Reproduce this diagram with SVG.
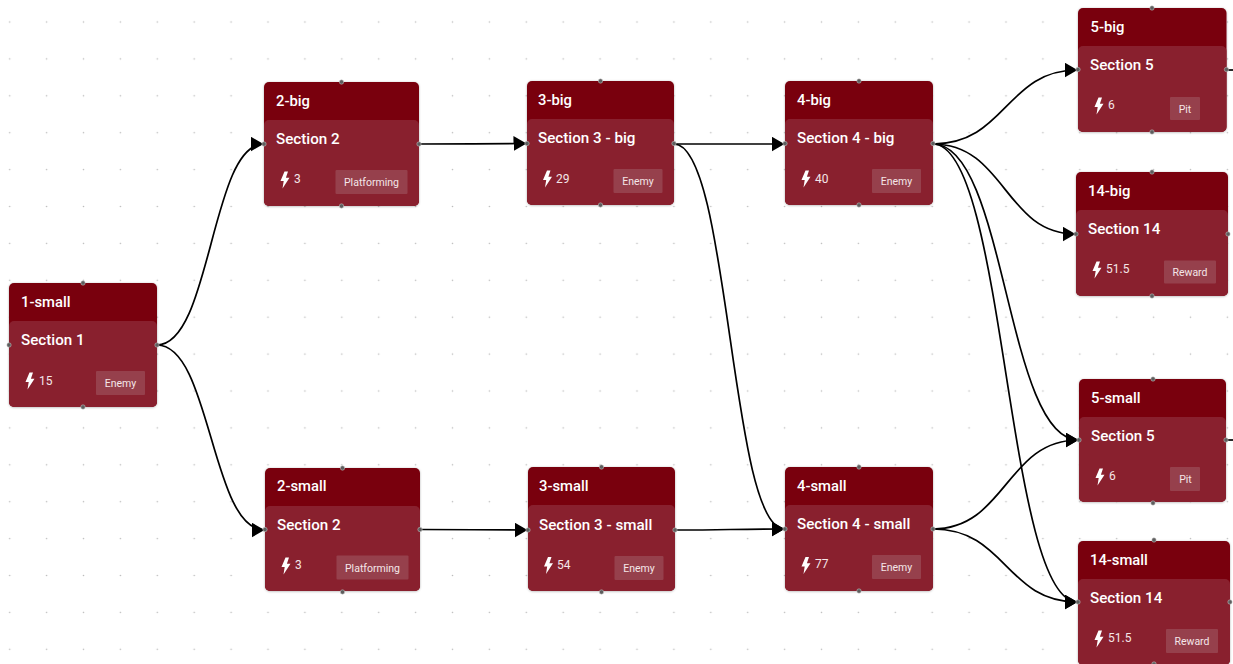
<svg xmlns="http://www.w3.org/2000/svg" width="1233" height="664" viewBox="0 0 1233 664">
<style>
.o{fill:#79000f}.i{fill:#89202e}.c{fill:#96404c}.b{fill:#fff}
.h{fill:#5e5e5e;stroke:#ccc;stroke-width:.5}
text{font-family:Roboto,"Liberation Sans",sans-serif;fill:#fff}
.t{font-size:14.8px;font-weight:500}.s{font-size:15.200px;font-weight:500}.v{font-size:12px;fill:#f4e6e8}.l{font-size:10.500px;text-anchor:middle;fill:#f4e6e8}
.e{fill:none;stroke:#000;stroke-width:1.700}
.a{marker-end:url(#ar)}
</style>
<defs>
<pattern id="g" width="36.9" height="36.9" patternUnits="userSpaceOnUse" x="-8.75" y="3.55"><circle cx="18.45" cy="18.45" r=".8" fill="#bcbcbc"/></pattern>
<marker id="ar" markerUnits="userSpaceOnUse" markerWidth="15" markerHeight="16" refX="13" refY="7.500" orient="auto"><path d="M0 0L13 7.500L0 15Z" fill="#000"/></marker>
<path id="bolt" d="M4 0L0 9.500H3.200L2 17L9 6.300H5.400L7.500 0Z"/>
<filter id="sh" x="-5%" y="-5%" width="110%" height="110%"><feDropShadow dx="0" dy="0.5" stdDeviation="0.8" flood-color="#000" flood-opacity=".3"/></filter>
</defs>
<rect width="1233" height="664" fill="#fff"/>
<rect width="1233" height="664" fill="url(#g)"/>
<g id="connectors">
<path class="e a" d="M157 345C211 345 211 144 263.500 144"/>
<path class="e a" d="M157 345C211 345 211 530 264.500 530"/>
<path class="e a" d="M419 144C473 144 473 144 526.500 143.500"/>
<path class="e a" d="M420 529.500C474 529.500 474 530 527.500 530"/>
<path class="e a" d="M674 144C730 144 730 144 784.500 144"/>
<path class="e a" d="M674 144C730 144 730 529 784.500 529"/>
<path class="e a" d="M675 530C730 530 730 529 784.500 529"/>
<path class="e a" d="M933 144C1006 144 1006 70 1077.500 70"/>
<path class="e a" d="M933 144C1005 144 1005 234 1075.500 234"/>
<path class="e a" d="M933 144C1006 144 1006 440 1078.500 440"/>
<path class="e a" d="M933 144C1006 144 1006 602 1077.500 602"/>
<path class="e a" d="M933 529C1006 529 1006 440 1078.500 440"/>
<path class="e a" d="M933 529C1006 529 1006 602 1077.500 602"/>
<path class="e" d="M1227 70H1233"/>
<path class="e" d="M1227 440H1233"/>
</g>
<g id="n1-small" transform="translate(9 283)"><rect class="o" width="148" height="124" rx="5" filter="url(#sh)"/><rect class="i" y="38" width="148" height="86" rx="5"/><text class="t" x="12" y="24">1-small</text><text class="s" x="12" y="62">Section 1</text><use class="b" href="#bolt" x="16.500" y="89.500"/><text class="v" x="30" y="102">15</text><rect class="c" x="87" y="88" width="49" height="24" rx="1"/><text class="l" x="111.500" y="104">Enemy</text><circle class="h" cx="74" cy="0" r="2.200"/><circle class="h" cx="74" cy="124" r="2.200"/><circle class="h" cx="0" cy="62" r="2.200"/><circle class="h" cx="148" cy="62" r="2.200"/></g>
<g id="n2-big" transform="translate(264 82)"><rect class="o" width="155" height="124" rx="5" filter="url(#sh)"/><rect class="i" y="38" width="155" height="86" rx="5"/><text class="t" x="12" y="24">2-big</text><text class="s" x="12" y="62">Section 2</text><use class="b" href="#bolt" x="16.500" y="89.500"/><text class="v" x="30" y="101">3</text><rect class="c" x="71.500" y="88" width="72" height="24" rx="1"/><text class="l" x="107.500" y="104">Platforming</text><circle class="h" cx="77.500" cy="0" r="2.200"/><circle class="h" cx="77.500" cy="124" r="2.200"/><circle class="h" cx="0" cy="62" r="2.200"/><circle class="h" cx="155" cy="62" r="2.200"/></g>
<g id="n3-big" transform="translate(527 81)"><rect class="o" width="147" height="124" rx="5" filter="url(#sh)"/><rect class="i" y="38" width="147" height="86" rx="5"/><text class="t" x="11" y="24">3-big</text><text class="s" x="11" y="62">Section 3 - big</text><use class="b" href="#bolt" x="16" y="89.500"/><text class="v" x="29" y="102">29</text><rect class="c" x="86.500" y="88" width="49" height="24" rx="1"/><text class="l" x="111" y="104">Enemy</text><circle class="h" cx="73.500" cy="0" r="2.200"/><circle class="h" cx="73.500" cy="124" r="2.200"/><circle class="h" cx="0" cy="62.500" r="2.200"/><circle class="h" cx="147" cy="62.500" r="2.200"/></g>
<g id="n4-big" transform="translate(785 81)"><rect class="o" width="148" height="124" rx="5" filter="url(#sh)"/><rect class="i" y="38" width="148" height="86" rx="5"/><text class="t" x="12" y="24">4-big</text><text class="s" x="12" y="62">Section 4 - big</text><use class="b" href="#bolt" x="16.500" y="89.500"/><text class="v" x="30" y="102">40</text><rect class="c" x="87" y="88" width="49" height="24" rx="1"/><text class="l" x="111.500" y="104">Enemy</text><circle class="h" cx="74" cy="0" r="2.200"/><circle class="h" cx="74" cy="124" r="2.200"/><circle class="h" cx="0" cy="62.500" r="2.200"/><circle class="h" cx="148" cy="62.500" r="2.200"/></g>
<g id="n5-big" transform="translate(1078 8)"><rect class="o" width="148.500" height="124" rx="5" filter="url(#sh)"/><rect class="i" y="38" width="148.500" height="86" rx="5"/><text class="t" x="12.500" y="24">5-big</text><text class="s" x="12" y="62">Section 5</text><use class="b" href="#bolt" x="16.500" y="89.500"/><text class="v" x="30" y="101">6</text><rect class="c" x="92" y="89" width="30" height="23" rx="1"/><text class="l" x="107" y="104.500">Pit</text><circle class="h" cx="74" cy="0" r="2.200"/><circle class="h" cx="74" cy="124" r="2.200"/><circle class="h" cx="0" cy="61.500" r="2.200"/><circle class="h" cx="148.500" cy="61.500" r="2.200"/></g>
<g id="n14-big" transform="translate(1076 172)"><rect class="o" width="152" height="124" rx="5" filter="url(#sh)"/><rect class="i" y="38" width="152" height="86" rx="5"/><text class="t" x="12" y="24">14-big</text><text class="s" x="12" y="62">Section 14</text><use class="b" href="#bolt" x="16.500" y="89.500"/><text class="v" x="30" y="101">51.5</text><rect class="c" x="88" y="88.500" width="52" height="23" rx="1"/><text class="l" x="114" y="103.500">Reward</text><circle class="h" cx="76" cy="0" r="2.200"/><circle class="h" cx="76" cy="124" r="2.200"/><circle class="h" cx="0" cy="62" r="2.200"/><circle class="h" cx="152" cy="62" r="2.200"/></g>
<g id="n2-small" transform="translate(265 468)"><rect class="o" width="155" height="123" rx="5" filter="url(#sh)"/><rect class="i" y="38" width="155" height="85" rx="5"/><text class="t" x="12" y="23">2-small</text><text class="s" x="12" y="62">Section 2</text><use class="b" href="#bolt" x="16.500" y="89.500"/><text class="v" x="30" y="101">3</text><rect class="c" x="71.500" y="87.500" width="72" height="24" rx="1"/><text class="l" x="107.500" y="103.500">Platforming</text><circle class="h" cx="77.500" cy="0" r="2.200"/><circle class="h" cx="77.500" cy="124" r="2.200"/><circle class="h" cx="0" cy="61.500" r="2.200"/><circle class="h" cx="155" cy="61.500" r="2.200"/></g>
<g id="n3-small" transform="translate(528 467)"><rect class="o" width="147" height="124" rx="5" filter="url(#sh)"/><rect class="i" y="38" width="147" height="86" rx="5"/><text class="t" x="11" y="24">3-small</text><text class="s" x="11" y="63">Section 3 - small</text><use class="b" href="#bolt" x="16" y="90"/><text class="v" x="29" y="102">54</text><rect class="c" x="86.500" y="89" width="49" height="24" rx="1"/><text class="l" x="111" y="105">Enemy</text><circle class="h" cx="73.500" cy="0" r="2.200"/><circle class="h" cx="73.500" cy="125" r="2.200"/><circle class="h" cx="0" cy="63" r="2.200"/><circle class="h" cx="147" cy="63" r="2.200"/></g>
<g id="n4-small" transform="translate(785 467)"><rect class="o" width="148" height="124" rx="5" filter="url(#sh)"/><rect class="i" y="38" width="148" height="86" rx="5"/><text class="t" x="12" y="24">4-small</text><text class="s" x="12" y="62">Section 4 - small</text><use class="b" href="#bolt" x="16.500" y="90"/><text class="v" x="30" y="101">77</text><rect class="c" x="87" y="88" width="49" height="24" rx="1"/><text class="l" x="111.500" y="104">Enemy</text><circle class="h" cx="74" cy="0" r="2.200"/><circle class="h" cx="74" cy="124" r="2.200"/><circle class="h" cx="0" cy="62" r="2.200"/><circle class="h" cx="148" cy="62" r="2.200"/></g>
<g id="n5-small" transform="translate(1079 379)"><rect class="o" width="147" height="123" rx="5" filter="url(#sh)"/><rect class="i" y="38" width="147" height="85" rx="5"/><text class="t" x="12" y="24">5-small</text><text class="s" x="12" y="62">Section 5</text><use class="b" href="#bolt" x="16.500" y="89.500"/><text class="v" x="30" y="101">6</text><rect class="c" x="91" y="88" width="30" height="24" rx="1"/><text class="l" x="106.500" y="104">Pit</text><circle class="h" cx="74" cy="0" r="2.200"/><circle class="h" cx="74" cy="124" r="2.200"/><circle class="h" cx="0" cy="61" r="2.200"/><circle class="h" cx="147" cy="61" r="2.200"/></g>
<g id="n14-small" transform="translate(1078 541)"><rect class="o" width="152" height="124" rx="5" filter="url(#sh)"/><rect class="i" y="38" width="152" height="86" rx="5"/><text class="t" x="12" y="24">14-small</text><text class="s" x="12" y="62">Section 14</text><use class="b" href="#bolt" x="16.500" y="89.500"/><text class="v" x="30" y="101">51.5</text><rect class="c" x="88" y="88" width="52" height="24" rx="1"/><text class="l" x="114" y="103.500">Reward</text><circle class="h" cx="76" cy="-1" r="2.200"/><circle class="h" cx="76" cy="123" r="2.200"/><circle class="h" cx="0" cy="61" r="2.200"/><circle class="h" cx="152" cy="61" r="2.200"/></g>
</svg>
